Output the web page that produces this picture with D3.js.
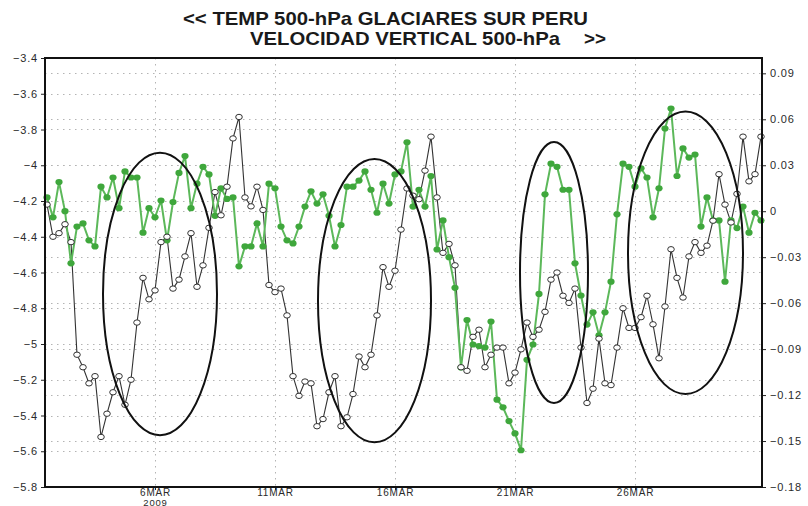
<!DOCTYPE html>
<html>
<head>
<meta charset="utf-8">
<script src="https://cdn.jsdelivr.net/npm/d3@7"></script>
<style>
  html, body { margin: 0; padding: 0; background: #fff; }
  svg { display: block; }
</style>
</head>
<body>
<svg id="chart" width="808" height="506"></svg>
<script>
// 6-hourly series, Peruvian southern glaciers, March 2009
const startTime = Date.UTC(2009, 2, 1, 12);   // first analysis time
const stepHours = 6;

// 500-hPa temperature (left axis, °C)
const temp500 = [
  -4.22, -4.40, -4.38, -4.33, -4.43, -5.06, -5.13, -5.22, -5.18, -5.52,
  -5.39, -5.27, -5.18, -5.34, -5.20, -4.88, -4.63, -4.75, -4.70, -4.43,
  -4.40, -4.69, -4.64, -4.51, -4.38, -4.68, -4.56, -4.35, -4.15, -4.28,
  -4.12, -3.85, -3.73, -4.18, -4.23, -4.12, -4.25, -4.67, -4.71, -4.69,
  -4.84, -5.18, -5.29, -5.21, -5.22, -5.46, -5.42, -5.27, -5.18, -5.46,
  -5.41, -5.28, -5.07, -5.13, -5.06, -4.84, -4.57, -4.68, -4.59, -4.36,
  -4.13, -4.17, -4.19, -4.03, -3.84, -4.18, -4.49, -4.44, -4.56, -5.13,
  -5.15, -4.96, -4.92, -5.13, -5.06, -5.02, -5.02, -5.22, -5.16, -5.03,
  -4.88, -4.96, -4.92, -4.82, -4.64, -4.60, -4.73, -4.77, -4.69, -5.02,
  -5.33, -5.25, -4.97, -5.22, -5.23, -5.02, -4.80, -4.91, -4.91, -4.85,
  -4.73, -4.89, -5.08, -4.79, -4.47, -4.63, -4.74, -4.51, -4.43, -4.49,
  -4.45, -4.31, -4.05, -4.22, -4.32, -4.16, -3.84, -4.09, -4.05, -3.84
];

// 500-hPa vertical velocity (right axis)
const omega500 = [
   0.009, -0.004,  0.019,  0.000, -0.034, -0.010, -0.008, -0.019, -0.023,  0.016,
   0.009,  0.022,  0.002,  0.026,  0.022,  0.022, -0.014,  0.002, -0.004,  0.007,
  -0.019,  0.006,  0.025,  0.036,  0.002,  0.018,  0.029,  0.024, -0.003,  0.015,
   0.008,  0.009, -0.036, -0.023, -0.023, -0.008, -0.023,  0.018,  0.015, -0.010,
  -0.019, -0.021, -0.010,  0.003,  0.013,  0.005,  0.011, -0.003, -0.023, -0.009,
   0.016,  0.016,  0.020,  0.026,  0.014, -0.001,  0.018,  0.005,  0.024,  0.026,
   0.045,  0.003,  0.014,  0.003,  0.023, -0.025, -0.006, -0.030, -0.050, -0.102,
  -0.071, -0.087, -0.088, -0.089, -0.072, -0.123, -0.128, -0.137, -0.145, -0.156,
  -0.097, -0.087, -0.054,  0.011,  0.031,  0.029,  0.014,  0.014, -0.034, -0.055,
  -0.074, -0.066, -0.081, -0.066, -0.046, -0.002,  0.031,  0.029,  0.016,  0.028,
   0.022, -0.004,  0.015,  0.054,  0.067,  0.023,  0.041,  0.035,  0.037, -0.010,
   0.009, -0.006, -0.006, -0.046, -0.006, -0.011,  0.003, -0.014, -0.001, -0.006
];

const leftTicks  = [-3.4, -3.6, -3.8, -4, -4.2, -4.4, -4.6, -4.8, -5, -5.2, -5.4, -5.6, -5.8];
const rightTicks = [0.09, 0.06, 0.03, 0, -0.03, -0.06, -0.09, -0.12, -0.15, -0.18];
const dateTicks  = [Date.UTC(2009, 2, 6), Date.UTC(2009, 2, 11), Date.UTC(2009, 2, 16),
                    Date.UTC(2009, 2, 21), Date.UTC(2009, 2, 26)];
const dateLabels = ["6MAR", "11MAR", "16MAR", "21MAR", "26MAR"];
const yearLabel  = "2009";

const titleLines = ["<< TEMP 500-hPa GLACIARES SUR PERU", "VELOCIDAD VERTICAL 500-hPa", ">>"];

// hand-drawn rings around the paired episodes: date span and temperature span
const rings = [
  { from: Date.UTC(2009, 2, 3, 20), to: Date.UTC(2009, 2, 8, 14), hi: -3.93, lo: -5.51 },
  { from: Date.UTC(2009, 2, 12, 19), to: Date.UTC(2009, 2, 17, 12), hi: -3.965, lo: -5.55 },
  { from: Date.UTC(2009, 2, 21, 5), to: Date.UTC(2009, 2, 24, 1), hi: -3.87, lo: -5.33 },
  { from: Date.UTC(2009, 2, 25, 17), to: Date.UTC(2009, 2, 30, 12), hi: -3.70, lo: -5.28 }
];

const times = temp500.map((_, i) => new Date(startTime + i * stepHours * 3600e3));

const frame = { left: 45, right: 762, top: 58, bottom: 487 };
const svg = d3.select("#chart");

const x = d3.scaleUtc()
  .domain([times[0], times[times.length - 1]])
  .range([47, 761]);
const yL = d3.scaleLinear().domain([-5.8, -3.4]).range([frame.bottom, frame.top]);
const yR = d3.scaleLinear().domain([-0.18, 0.10]).range([frame.bottom, frame.top]);

const fmtLeft = v => {
  const s = d3.format(".1f")(v).replace(/\.0$/, "");
  return s.replace("-", "\u2212");
};
const fmtRight = v => v === 0 ? "0" : d3.format(".2f")(v).replace("-", "\u2212");

// dotted grid for both vertical scales and the date ticks
const grid = svg.append("g")
  .attr("stroke", "#b4b4b4")
  .attr("stroke-width", 1)
  .attr("stroke-dasharray", "1.5,4.5");
grid.selectAll("line.gl").data(leftTicks).join("line")
  .attr("x1", frame.left).attr("x2", frame.right)
  .attr("y1", d => Math.round(yL(d)) + 0.5).attr("y2", d => Math.round(yL(d)) + 0.5);
grid.selectAll("line.gr").data(rightTicks).join("line")
  .attr("x1", frame.left).attr("x2", frame.right)
  .attr("y1", d => Math.round(yR(d)) + 0.5).attr("y2", d => Math.round(yR(d)) + 0.5);
grid.selectAll("line.gx").data(dateTicks).join("line")
  .attr("x1", d => Math.round(x(d)) + 0.5).attr("x2", d => Math.round(x(d)) + 0.5)
  .attr("y1", frame.top).attr("y2", frame.bottom);

// axes
const labelFont = "'Liberation Sans', Arial, sans-serif";
const leftAxis = d3.axisLeft(yL).tickValues(leftTicks).tickFormat(fmtLeft).tickSize(4).tickPadding(3);
const rightAxis = d3.axisRight(yR).tickValues(rightTicks).tickFormat(fmtRight).tickSize(4).tickPadding(4);
const bottomAxis = d3.axisBottom(x).tickValues(dateTicks.map(d => new Date(d)))
  .tickFormat((d, i) => dateLabels[i]).tickSize(3).tickPadding(-1.5);

function styleAxis(g) {
  g.select(".domain").remove();
  g.selectAll(".tick line").attr("stroke", "#222").attr("stroke-width", 1);
  g.selectAll(".tick text")
    .attr("fill", "#2a2a2a")
    .style("font-family", labelFont)
    .style("font-size", "11px")
    .style("letter-spacing", "0.8px");
}

svg.append("g").attr("transform", `translate(${frame.left},0)`).call(leftAxis).call(styleAxis);
svg.append("g").attr("transform", `translate(${frame.right},0)`).call(rightAxis).call(styleAxis);
const bx = svg.append("g").attr("transform", `translate(0,${frame.bottom})`).call(bottomAxis).call(styleAxis);
bx.selectAll(".tick text").style("font-size", "10px");
bx.selectAll(".tick").filter((d, i) => i === 0).append("text")
  .attr("y", 18.5).attr("text-anchor", "middle")
  .attr("fill", "#2a2a2a")
  .style("font-family", labelFont).style("font-size", "9.5px").style("letter-spacing", "0.8px")
  .text(yearLabel);

// temperature: thin dark line, open markers
const lineT = d3.line().x((d, i) => x(times[i])).y(d => yL(d));
svg.append("path").datum(temp500)
  .attr("fill", "none").attr("stroke", "#333").attr("stroke-width", 1.1)
  .attr("d", lineT);

// vertical velocity: green line, filled markers
const lineW = d3.line().x((d, i) => x(times[i])).y(d => yR(d));
svg.append("path").datum(omega500)
  .attr("fill", "none").attr("stroke", "#5cb85a").attr("stroke-width", 2)
  .attr("d", lineW);
svg.append("g").selectAll("ellipse").data(omega500).join("ellipse")
  .attr("cx", (d, i) => x(times[i])).attr("cy", d => yR(d))
  .attr("rx", 3.6).attr("ry", 3.1)
  .attr("fill", "#3fa73c");

svg.append("g").selectAll("ellipse").data(temp500).join("ellipse")
  .attr("cx", (d, i) => x(times[i])).attr("cy", d => yL(d))
  .attr("rx", 3.3).attr("ry", 2.7)
  .attr("fill", "#fff").attr("stroke", "#333").attr("stroke-width", 1);

// annotation rings
svg.append("g").selectAll("ellipse").data(rings).join("ellipse")
  .attr("cx", d => (x(new Date(d.from)) + x(new Date(d.to))) / 2)
  .attr("cy", d => (yL(d.hi) + yL(d.lo)) / 2)
  .attr("rx", d => (x(new Date(d.to)) - x(new Date(d.from))) / 2)
  .attr("ry", d => (yL(d.lo) - yL(d.hi)) / 2)
  .attr("fill", "none").attr("stroke", "#111").attr("stroke-width", 2);

// plot frame
svg.append("rect")
  .attr("x", frame.left).attr("y", frame.top)
  .attr("width", frame.right - frame.left).attr("height", frame.bottom - frame.top)
  .attr("fill", "none").attr("stroke", "#111").attr("stroke-width", 2);

// title
const title = svg.append("g")
  .style("font-family", "'Liberation Sans', Arial, sans-serif")
  .style("font-weight", "bold").style("font-size", "19px").attr("fill", "#1a1a1a");
title.append("text").attr("x", 183).attr("y", 25)
  .attr("textLength", 405).attr("lengthAdjust", "spacingAndGlyphs").text(titleLines[0]);
title.append("text").attr("x", 250).attr("y", 45)
  .attr("textLength", 310).attr("lengthAdjust", "spacingAndGlyphs").text(titleLines[1]);
title.append("text").attr("x", 584).attr("y", 45)
  .attr("textLength", 22).attr("lengthAdjust", "spacingAndGlyphs").text(titleLines[2]);
</script>
</body>
</html>
